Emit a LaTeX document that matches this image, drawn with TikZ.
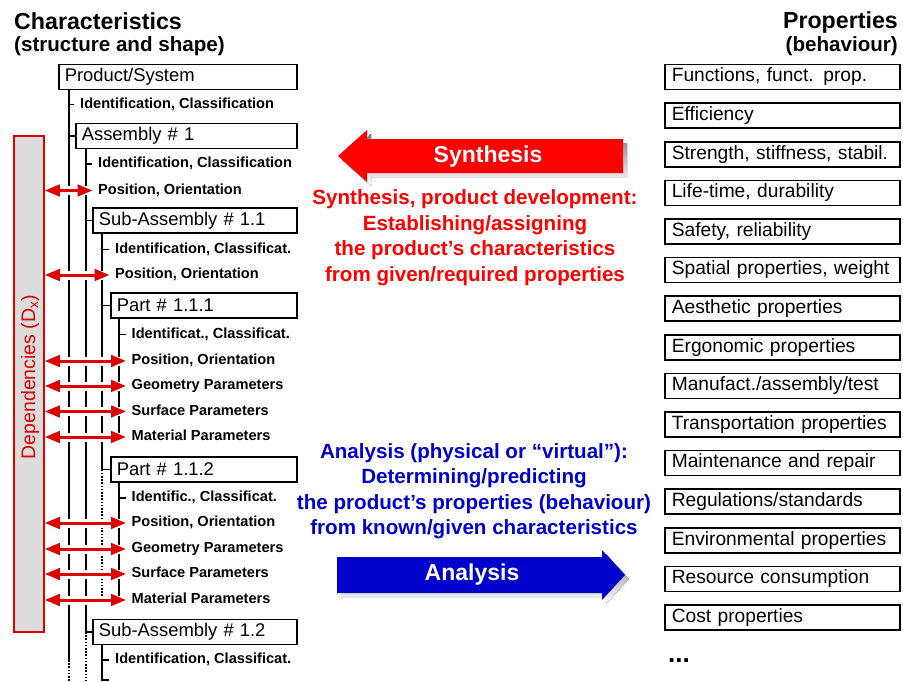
\documentclass[tikz,border=0pt]{standalone}
\usepackage{fontspec}
\setmainfont{Liberation Sans}
\usetikzlibrary{arrows.meta,positioning}
\definecolor{synred}{RGB}{255,0,0}
\definecolor{depred}{RGB}{221,0,0}
\definecolor{anablue}{RGB}{0,0,204}
\definecolor{bargray}{RGB}{220,220,220}
\definecolor{shade}{RGB}{150,150,150}

\begin{document}
\begin{tikzpicture}[
  x=1pt, y=-1pt,
  title/.style={font=\bfseries\fontsize{23.2}{26}\selectfont, inner sep=0pt},
  subtitle/.style={font=\bfseries\fontsize{20.6}{24}\selectfont, inner sep=0pt},
  tbox/.style={draw, line width=1.6pt, anchor=west, minimum height=25pt, inner xsep=6pt, inner ysep=0pt, align=left, font=\fontsize{18.4}{21}\selectfont},
  lbl/.style={anchor=west, inner sep=0pt, font=\bfseries\fontsize{14.6}{17}\selectfont, text height=10.5pt, text depth=3.1pt},
  pbox/.style={draw, line width=1.6pt, minimum width=235pt, minimum height=25pt, inner xsep=7pt, inner ysep=0pt, text width=221pt, align=left, font=\fontsize{19.2}{22}\selectfont},
  tree/.style={line width=1.6pt},
  more/.style={line width=1.6pt, dash pattern=on 1.6pt off 1.6pt},
  dep/.style={{Triangle[length=15pt,width=11.5pt]}-{Triangle[length=15pt,width=11.5pt]}, draw=depred, line width=3pt, preaction={draw=white, line width=9pt, arrows=-}},
  desc/.style={align=center, font=\bfseries\fontsize{20.6}{25.5}\selectfont, inner sep=0pt},
  biglbl/.style={font=\bfseries\fontsize{23}{26}\selectfont, text=white, inner sep=0pt},
  node distance=12pt
]
  \useasboundingbox (0,0) rectangle (903,681);
  \coordinate (bottom) at (0,681);

  \node[title, anchor=base west] (chartitle) at (14,29) {Characteristics};
  \node[subtitle, anchor=base west] (charsub) at (14,51) {(structure and shape)};
  \node[title, anchor=base east] (proptitle) at (898,28) {Properties};
  \node[subtitle, anchor=base east] (propsub) at (898,51) {(behaviour)};

  % tree of characteristics
  \node[tbox, text width=226pt] (product) at (58,77) {Product/System};
  \node[tbox, text width=209pt] (assembly) at (75,136) {Assembly \# 1};
  \node[tbox, text width=192pt] (sub11) at (92,220.5) {Sub-Assembly \# 1.1};
  \node[tbox, text width=174pt] (part111) at (110,305.5) {Part \# 1.1.1};
  \node[tbox, text width=174pt] (part112) at (110,469.5) {Part \# 1.1.2};
  \node[tbox, text width=192pt] (sub12) at (92,632) {Sub-Assembly \# 1.2};

  \node[lbl] (prodid) at (80,104.5) {Identification, Classification};
  \node[lbl] (asmid) at (98,164) {Identification, Classification};
  \node[lbl] (asmpos) at (98,190.5) {Position, Orientation};
  \node[lbl] (subid) at (115,249.5) {Identification, Classificat.};
  \node[lbl] (subpos) at (115,275) {Position, Orientation};
  \node[lbl] (p1id) at (131.5,334.5) {Identificat., Classificat.};
  \node[lbl] (p1pos) at (131.5,361) {Position, Orientation};
  \node[lbl] (p1geo) at (131.5,386) {Geometry Parameters};
  \node[lbl] (p1surf) at (131.5,411.5) {Surface Parameters};
  \node[lbl] (p1mat) at (131.5,437) {Material Parameters};
  \node[lbl] (p2id) at (131.5,498) {Identific., Classificat.};
  \node[lbl] (p2pos) at (131.5,523) {Position, Orientation};
  \node[lbl] (p2geo) at (131.5,549) {Geometry Parameters};
  \node[lbl] (p2surf) at (131.5,574) {Surface Parameters};
  \node[lbl] (p2mat) at (131.5,600) {Material Parameters};
  \node[lbl] (s2id) at (115,660) {Identification, Classificat.};
  \coordinate (s2next) at (115,680);

  \coordinate (sp0) at ([xshift=10.75pt]product.south west);
  \coordinate (sp1) at ([xshift=10.75pt]assembly.south west);
  \coordinate (sp2) at ([xshift=10.25pt]sub11.south west);
  \coordinate (sp3) at ([xshift=9.25pt]part111.south west);
  \coordinate (sp4) at ([xshift=9.25pt]part112.south west);
  \coordinate (sp5) at ([xshift=10.25pt]sub12.south west);

  \draw[tree] (sp0) -- (sp0 |- s2id.west);
  \draw[more] (sp0 |- s2id.west) -- (sp0 |- bottom);
  \draw[tree] (sp1) -- (sp1 |- sub12.west);
  \draw[more] (sp1 |- sub12.west) -- (sp1 |- bottom);
  \draw[tree] (sp2) -- (sp2 |- part112.west);
  \draw[more] (sp2 |- part112.west) -- (sp2 |- p2mat.west);
  \draw[tree] (sp3) -- (sp3 |- p1mat.west);
  \draw[tree] (sp4) -- (sp4 |- p2mat.west);
  \draw[tree] (sp5) -- (sp5 |- bottom);

  \draw[tree] (assembly.west -| sp0) -- (assembly.west);
  \draw[tree] (sub11.west -| sp1) -- (sub11.west);
  \draw[tree] (part111.west -| sp2) -- (part111.west);
  \draw[tree] (part112.west -| sp2) -- (part112.west);
  \draw[tree] (sub12.west -| sp1) -- (sub12.west);

  \draw[tree] (prodid.west -| sp0) -- ([xshift=-6pt]prodid.west);
  \draw[tree] (asmid.west -| sp1) -- ([xshift=-6pt]asmid.west);
  \draw[tree] (subid.west -| sp2) -- ([xshift=-6pt]subid.west);
  \draw[tree] (p1id.west -| sp3) -- ([xshift=-6pt]p1id.west);
  \draw[tree] (p2id.west -| sp4) -- ([xshift=-6pt]p2id.west);
  \draw[tree] (s2id.west -| sp5) -- ([xshift=-6pt]s2id.west);
  \draw[tree] (s2next -| sp5) -- ([xshift=-6pt]s2next);

  % dependencies
  \node[draw=depred, fill=bargray, line width=1.6pt, minimum width=30pt, minimum height=496pt, inner sep=0pt] (dep) at (29,384) {};
  \node[rotate=90, text=depred, inner sep=0pt, font=\fontsize{19.5}{22}\selectfont] (deplbl) at (30,377) {Dependencies (D\textsubscript{x})};

  \draw[dep] (asmpos.west -| dep.east) -- ([xshift=-5.5pt]asmpos.west);
  \draw[dep] (subpos.west -| dep.east) -- ([xshift=-5.5pt]subpos.west);
  \draw[dep] (p1pos.west -| dep.east) -- ([xshift=-5.5pt]p1pos.west);
  \draw[dep] (p1geo.west -| dep.east) -- ([xshift=-5.5pt]p1geo.west);
  \draw[dep] (p1surf.west -| dep.east) -- ([xshift=-5.5pt]p1surf.west);
  \draw[dep] (p1mat.west -| dep.east) -- ([xshift=-5.5pt]p1mat.west);
  \draw[dep] (p2pos.west -| dep.east) -- ([xshift=-5.5pt]p2pos.west);
  \draw[dep] (p2geo.west -| dep.east) -- ([xshift=-5.5pt]p2geo.west);
  \draw[dep] (p2surf.west -| dep.east) -- ([xshift=-5.5pt]p2surf.west);
  \draw[dep] (p2mat.west -| dep.east) -- ([xshift=-5.5pt]p2mat.west);

  % synthesis and analysis
  \fill[shade] (342,160) -- (371,134) -- (371,143) -- (627,143) -- (627,177) -- (371,177) -- (371,186) -- cycle;
  \fill[synred] (338,156) -- (367,130) -- (367,139) -- (623,139) -- (623,173) -- (367,173) -- (367,182) -- cycle;
  \node[biglbl] (synlbl) at (488,157) {Synthesis};
  \node[desc, text=synred] (syndesc) at (475,237.5) {Synthesis, product development:\\Establishing/assigning\\the product’s characteristics\\from given/required properties};

  \node[desc, text=anablue] (anadesc) at (474,491) {Analysis (physical or “virtual”):\\Determining/predicting\\the product’s properties (behaviour)\\from known/given characteristics};
  \fill[shade] (341,561) -- (606,561) -- (606,554) -- (629,579) -- (606,604) -- (606,597) -- (341,597) -- cycle;
  \fill[anablue] (337,557) -- (602,557) -- (602,550) -- (625,575) -- (602,600) -- (602,593) -- (337,593) -- cycle;
  \node[biglbl] (analbl) at (472,575) {Analysis};

  % properties
  \node[pbox, anchor=west] (func) at (664,77) {Functions, funct. prop.};
  \node[pbox, below=of func] (effic) {Efficiency};
  \node[pbox, below=of effic] (strength) {Strength, stiffness, stabil.};
  \node[pbox, below=of strength] (life) {Life-time, durability};
  \node[pbox, below=of life] (safety) {Safety, reliability};
  \node[pbox, below=of safety] (spatial) {Spatial properties, weight};
  \node[pbox, below=of spatial] (aesth) {Aesthetic properties};
  \node[pbox, below=of aesth] (ergo) {Ergonomic properties};
  \node[pbox, below=of ergo] (manuf) {Manufact./assembly/test};
  \node[pbox, below=of manuf] (transp) {Transportation properties};
  \node[pbox, below=of transp] (maint) {Maintenance and repair};
  \node[pbox, below=of maint] (regul) {Regulations/standards};
  \node[pbox, below=of regul] (envir) {Environmental properties};
  \node[pbox, below=of envir] (resource) {Resource consumption};
  \node[pbox, below=of resource] (cost) {Cost properties};
  \node[anchor=base west, inner sep=0pt, font=\bfseries\fontsize{26}{30}\selectfont] (etc) at (668,662) {...};
\end{tikzpicture}
\end{document}
